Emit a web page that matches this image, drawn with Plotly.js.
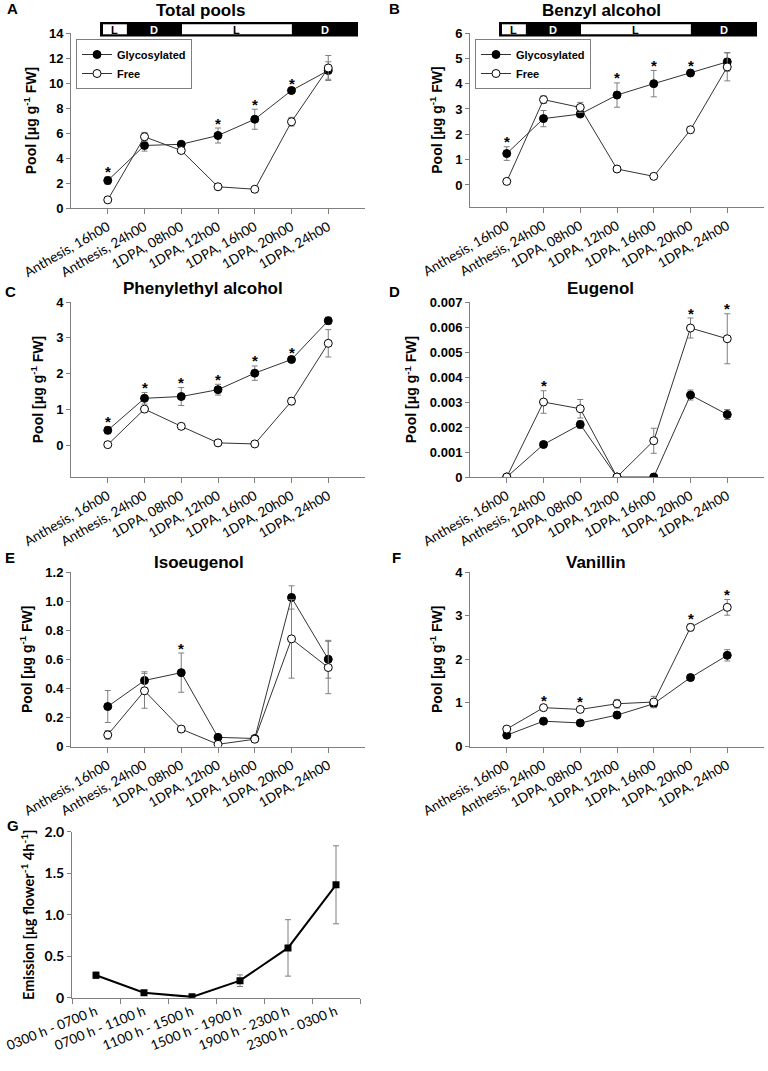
<!DOCTYPE html>
<html><head><meta charset="utf-8">
<script src="https://cdn.plot.ly/plotly-3.0.1.min.js"></script>
<style>body{margin:0;background:#fff}#chart{width:768px;height:1071px}</style>
</head><body><div id="chart"></div>
<script>
// ---------- data ----------
const categories = ['Anthesis, 16h00','Anthesis, 24h00','1DPA, 08h00','1DPA, 12h00','1DPA, 16h00','1DPA, 20h00','1DPA, 24h00'];

const totalGly      = [2.2, 5.0, 5.1, 5.8, 7.1, 9.4, 11.0];
const totalGlyErr   = [0.3, 0.45, 0.15, 0.6, 0.8, 0.15, 0.7];
const totalFree     = [0.65, 5.7, 4.6, 1.7, 1.5, 6.9, 11.2];
const totalFreeErr  = [0.1, 0.35, 0.2, 0.1, 0.1, 0.35, 1.0];
const totalSig      = [1, 0, 0, 1, 1, 1, 0];   // on glycosylated

const benzylGly     = [1.24, 2.62, 2.8, 3.55, 4.0, 4.42, 4.86];
const benzylGlyErr  = [0.27, 0.32, 0.1, 0.48, 0.52, 0.08, 0.37];
const benzylFree    = [0.14, 3.37, 3.06, 0.63, 0.34, 2.18, 4.66];
const benzylFreeErr = [0.05, 0.15, 0.2, 0.05, 0.05, 0.08, 0.55];
const benzylSig     = [1, 0, 0, 1, 1, 1, 0];  // on glycosylated

const phenylGly     = [0.43, 1.32, 1.37, 1.56, 2.02, 2.40, 3.48];
const phenylGlyErr  = [0.1, 0.16, 0.25, 0.15, 0.2, 0.05, 0.1];
const phenylFree    = [0.03, 1.02, 0.54, 0.08, 0.05, 1.24, 2.85];
const phenylFreeErr = [0.02, 0.06, 0.03, 0.02, 0.02, 0.1, 0.38];
const phenylSig     = [1, 1, 1, 1, 1, 1, 0];  // on glycosylated

const eugenolGly     = [0, 0.0013, 0.0021, 0, 0, 0.00328, 0.0025];
const eugenolGlyErr  = [0, 0.00005, 0.00015, 0, 0, 0.0002, 0.0002];
const eugenolFree    = [0, 0.0030, 0.00273, 0, 0.00145, 0.00596, 0.00553];
const eugenolFreeErr = [0, 0.00045, 0.00037, 0, 0.0005, 0.0004, 0.001];
const eugenolSig     = [0, 1, 0, 0, 0, 1, 1];  // on free

const isoGly     = [0.275, 0.454, 0.508, 0.063, 0.055, 1.025, 0.60];
const isoGlyErr  = [0.11, 0.06, 0.135, 0.01, 0.01, 0.08, 0.13];
const isoFree    = [0.08, 0.383, 0.12, 0.015, 0.05, 0.74, 0.543];
const isoFreeErr = [0.03, 0.12, 0.02, 0.01, 0.02, 0.27, 0.18];
const isoSig     = [0, 0, 1, 0, 0, 0, 0];     // on glycosylated

const vanGly     = [0.26, 0.58, 0.54, 0.72, 0.98, 1.58, 2.09];
const vanGlyErr  = [0.03, 0.07, 0.04, 0.08, 0.08, 0.07, 0.13];
const vanFree    = [0.40, 0.89, 0.85, 0.98, 1.02, 2.73, 3.19];
const vanFreeErr = [0.03, 0.05, 0.06, 0.1, 0.13, 0.08, 0.18];
const vanSig     = [0, 1, 1, 0, 0, 1, 1];     // on free

const emissionCats = ['0300 h - 0700 h','0700 h - 1100 h','1100 h - 1500 h','1500 h - 1900 h','1900 h - 2300 h','2300 h - 0300 h'];
const emission     = [0.27, 0.06, 0.01, 0.205, 0.60, 1.36];
const emissionErr  = [0.04, 0.015, 0.01, 0.07, 0.34, 0.47];

const ticksA = [0, 2, 4, 6, 8, 10, 12, 14];
const ticksB = [0, 1, 2, 3, 4, 5, 6];
const ticksC = [0, 1, 2, 3, 4];
const ticksD = [0, 0.001, 0.002, 0.003, 0.004, 0.005, 0.006, 0.007];
const ticksDText = ['0','0.001','0.002','0.003','0.004','0.005','0.006','0.007'];
const ticksE = [0, 0.2, 0.4, 0.6, 0.8, 1.0, 1.2];
const ticksEText = ['0','0.2','0.4','0.6','0.8','1.0','1.2'];
const ticksF = [0, 1, 2, 3, 4];
const ticksG = [0, 0.5, 1.0, 1.5, 2.0];
const ticksGText = ['0','0.5','1.0','1.5','2.0'];

// light / dark periods (positions on category axis)
const photoperiod = [
  {label:'L', start:-0.13, end:0.52},
  {label:'D', start:0.52, end:2.02},
  {label:'L', start:2.02, end:5.01},
  {label:'D', start:5.01, end:6.81}
];
const barStart = -0.21;

// ---------- layout helpers ----------
const W = 768, H = 1071;
const pxX = v => v / W;
const pxY = v => 1 - v / H;

const poolTitle = 'Pool [μg g<sup>-1</sup> FW]';
const GREY = '#7f7f7f';
const boldArial = (s) => ({family:'Arial, Liberation Sans, sans-serif', size:s, color:'#000', weight:'bold'});

const panels = [
  {letter:'A', title:'Total pools', gly:totalGly, gErr:totalGlyErr, free:totalFree, fErr:totalFreeErr, sig:totalSig, sigOn:'gly',
   range:[0,14], tv:ticksA, tt:ticksA.map(String), box:[71,33,365,208], titleX:200, titleY:11, letterXY:[12,9], legend:'legend', bar:true},
  {letter:'B', title:'Benzyl alcohol', gly:benzylGly, gErr:benzylGlyErr, free:benzylFree, fErr:benzylFreeErr, sig:benzylSig, sigOn:'gly',
   range:[-0.87,6], tv:ticksB, tt:ticksB.map(String), box:[470,33,764,207], titleX:601, titleY:11, letterXY:[394,9], legend:'legend2', bar:true},
  {letter:'C', title:'Phenylethyl alcohol', gly:phenylGly, gErr:phenylGlyErr, free:phenylFree, fErr:phenylFreeErr, sig:phenylSig, sigOn:'gly',
   range:[-0.87,4], tv:ticksC, tt:ticksC.map(String), box:[71,302,365,477], titleX:203, titleY:289, letterXY:[10,292]},
  {letter:'D', title:'Eugenol', gly:eugenolGly, gErr:eugenolGlyErr, free:eugenolFree, fErr:eugenolFreeErr, sig:eugenolSig, sigOn:'free',
   range:[0,0.007], tv:ticksD, tt:ticksDText, box:[470,302,764,477], titleX:600, titleY:289, letterXY:[394,292]},
  {letter:'E', title:'Isoeugenol', gly:isoGly, gErr:isoGlyErr, free:isoFree, fErr:isoFreeErr, sig:isoSig, sigOn:'gly',
   range:[0,1.2], tv:ticksE, tt:ticksEText, box:[71,572,365,746.5], titleX:199, titleY:562, letterXY:[10,557]},
  {letter:'F', title:'Vanillin', gly:vanGly, gErr:vanGlyErr, free:vanFree, fErr:vanFreeErr, sig:vanSig, sigOn:'free',
   range:[0,4], tv:ticksF, tt:ticksF.map(String), box:[470,572,764,746.5], titleX:596, titleY:562, letterXY:[396,557]}
];

const data = [];
const layout = {
  width: W, height: H,
  margin: {l:0, r:0, t:0, b:0},
  paper_bgcolor: '#fff', plot_bgcolor: '#fff',
  showlegend: true,
  annotations: [], shapes: []
};

panels.forEach((p, i) => {
  const n = i + 1;
  const xa = n === 1 ? 'x' : 'x' + n;
  const ya = n === 1 ? 'y' : 'y' + n;
  const xkey = n === 1 ? 'xaxis' : 'xaxis' + n;
  const ykey = n === 1 ? 'yaxis' : 'yaxis' + n;

  layout[xkey] = {
    domain: [pxX(p.box[0]), pxX(p.box[2])], anchor: ya,
    type: 'category', categoryorder: 'array', categoryarray: categories,
    range: [-1, 7], showline: true, linecolor: GREY, linewidth: 1,
    ticks: 'outside', ticklen: 5, tickcolor: GREY, showgrid: false, zeroline: false,
    tickangle: -30, tickfont: {family:'Lato, Carlito, sans-serif', size:13.5, color:'#000'},
    fixedrange: true
  };
  layout[ykey] = {
    domain: [pxY(p.box[3]), pxY(p.box[1])], anchor: xa,
    range: p.range, tickmode: 'array', tickvals: p.tv, ticktext: p.tt,
    showline: true, linecolor: GREY, linewidth: 1,
    ticks: 'outside', ticklen: 4, tickcolor: GREY, showgrid: false, zeroline: false,
    tickfont: boldArial(13),
    title: {text: poolTitle, font: boldArial(14), standoff: 9},
    fixedrange: true
  };

  const inLegend = !!p.legend;
  data.push({
    type:'scatter', mode:'lines+markers', name:'Glycosylated',
    x: categories, y: p.gly, xaxis: xa, yaxis: ya,
    line: {color:'#333', width:1},
    marker: {symbol:'circle', size:8, color:'#000', line:{color:'#000', width:1}},
    error_y: {type:'data', array:p.gErr, visible:true, color:GREY, thickness:1, width:3},
    showlegend: inLegend, legend: p.legend || 'legend'
  });
  data.push({
    type:'scatter', mode:'lines+markers', name:'Free',
    x: categories, y: p.free, xaxis: xa, yaxis: ya,
    line: {color:'#333', width:1},
    marker: {symbol:'circle', size:8, color:'#fff', line:{color:'#000', width:1}},
    error_y: {type:'data', array:p.fErr, visible:true, color:GREY, thickness:1, width:3},
    showlegend: inLegend, legend: p.legend || 'legend'
  });

  // significance asterisks
  const vals = p.sigOn === 'gly' ? p.gly : p.free;
  const errs = p.sigOn === 'gly' ? p.gErr : p.fErr;
  p.sig.forEach((s, j) => {
    if (!s) return;
    layout.annotations.push({
      x: categories[j], y: vals[j] + errs[j], xref: xa, yref: ya,
      text: '*', showarrow: false, yanchor: 'middle', yshift: 5,
      font: boldArial(15)
    });
  });

  // panel title + letter
  layout.annotations.push({
    x: pxX(p.titleX), y: pxY(p.titleY), xref:'paper', yref:'paper',
    text: p.title, showarrow:false, xanchor:'center', yanchor:'middle',
    font: boldArial(17)
  });
  layout.annotations.push({
    x: pxX(p.letterXY[0]), y: pxY(p.letterXY[1]), xref:'paper', yref:'paper',
    text: p.letter, showarrow:false, xanchor:'center', yanchor:'middle',
    font: boldArial(15)
  });

  // light/dark bar
  if (p.bar) {
    layout.shapes.push({type:'rect', xref:xa, yref:'paper', x0:barStart, x1:photoperiod[photoperiod.length-1].end,
      y0:pxY(36.5), y1:pxY(22), fillcolor:'#000', line:{width:0}});
    photoperiod.forEach(per => {
      if (per.label === 'L') {
        layout.shapes.push({type:'rect', xref:xa, yref:'paper', x0:per.start, x1:per.end,
          y0:pxY(34.3), y1:pxY(24.3), fillcolor:'#fff', line:{width:0}});
      }
      layout.annotations.push({x:(per.start+per.end)/2, y:pxY(29.5), xref:xa, yref:'paper',
        text: per.label, showarrow:false, xanchor:'center', yanchor:'middle',
        font: {family:'Arial, Liberation Sans, sans-serif', size:11, weight:'bold', color: per.label === 'L' ? '#000' : '#fff'}});
    });
  }
});

// legends
const legendStyle = (x) => ({
  x: pxX(x), y: pxY(39), xanchor:'left', yanchor:'top', xref:'paper', yref:'paper',
  bgcolor:'#fff', bordercolor:GREY, borderwidth:1,
  font: boldArial(11), tracegroupgap:0, itemwidth:30
});
layout.legend = legendStyle(76);
layout.legend2 = legendStyle(475);

// panel G
data.push({
  type:'scatter', mode:'lines+markers', name:'Emission',
  x: emissionCats, y: emission, xaxis:'x7', yaxis:'y7',
  line: {color:'#000', width:2},
  marker: {symbol:'square', size:7, color:'#000'},
  error_y: {type:'data', array:emissionErr, visible:true, color:GREY, thickness:1, width:3},
  showlegend:false
});
layout.xaxis7 = {
  domain:[pxX(72), pxX(360)], anchor:'y7', type:'category',
  categoryorder:'array', categoryarray: emissionCats, range:[-0.5, 5.5],
  tickson:'boundaries', ticks:'outside', ticklen:5, tickcolor:GREY,
  showline:true, linecolor:GREY, linewidth:1, showgrid:false, zeroline:false,
  tickangle:-22, tickfont:{family:'Lato, Carlito, sans-serif', size:13.5, color:'#000'},
  fixedrange:true
};
layout.yaxis7 = {
  domain:[pxY(997.7), pxY(831.7)], anchor:'x7', range:[0, 2],
  tickmode:'array', tickvals: ticksG, ticktext: ticksGText,
  showline:true, linecolor:GREY, linewidth:1, ticks:'outside', ticklen:4, tickcolor:GREY,
  showgrid:false, zeroline:false,
  tickfont:{family:'Lato, Carlito, sans-serif', size:14, color:'#000', weight:'bold'},
  title:{text:'Emission [μg flower<sup>-1</sup> 4h<sup>-1</sup>]', font:{family:'Lato, Carlito, sans-serif', size:14.5, color:'#000', weight:'bold'}, standoff:6},
  fixedrange:true
};
layout.annotations.push({
  x: pxX(13), y: pxY(825), xref:'paper', yref:'paper', text:'G', showarrow:false,
  xanchor:'center', yanchor:'middle', font: boldArial(15)
});

Plotly.newPlot('chart', data, layout, {displayModeBar:false, staticPlot:true});
</script>
</body></html>
